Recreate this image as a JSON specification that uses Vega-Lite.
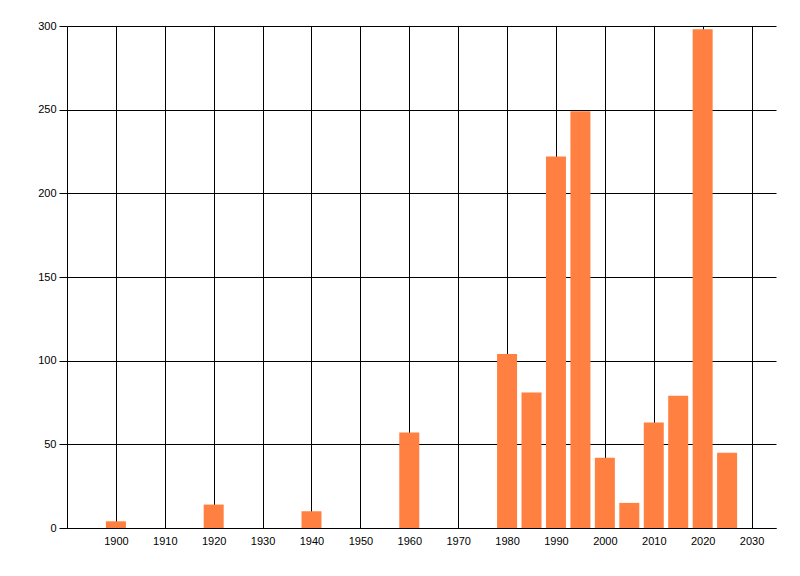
{
  "$schema": "https://vega.github.io/schema/vega-lite/v6.json",
  "autosize": "none",
  "padding": {"left": 67, "top": 26, "right": 24, "bottom": 48},
  "width": 709,
  "height": 502,
  "background": "white",
  "config": {
    "view": {"stroke": null},
    "axis": {
      "labelFont": "Liberation Sans",
      "labelFontSize": 11,
      "labelColor": "black",
      "domainColor": "black",
      "gridColor": "black",
      "gridOpacity": 1,
      "tickColor": "black",
      "title": null
    }
  },
  "data": {
    "values": [
      {"year": 1900, "value": 4},
      {"year": 1920, "value": 14},
      {"year": 1940, "value": 10},
      {"year": 1960, "value": 57},
      {"year": 1980, "value": 104},
      {"year": 1985, "value": 81},
      {"year": 1990, "value": 222},
      {"year": 1995, "value": 249},
      {"year": 2000, "value": 42},
      {"year": 2005, "value": 15},
      {"year": 2010, "value": 63},
      {"year": 2015, "value": 79},
      {"year": 2020, "value": 298},
      {"year": 2025, "value": 45}
    ]
  },
  "mark": {"type": "bar", "width": 20, "color": "#FF8040"},
  "encoding": {
    "x": {
      "field": "year",
      "type": "quantitative",
      "scale": {"domain": [1890, 2035], "nice": false, "zero": false, "padding": 0},
      "axis": {
        "values": [1900, 1910, 1920, 1930, 1940, 1950, 1960, 1970, 1980, 1990, 2000, 2010, 2020, 2030],
        "format": "d",
        "grid": true,
        "ticks": false,
        "tickSize": 0,
        "labelPadding": 7,
        "labelFlush": false
      }
    },
    "y": {
      "field": "value",
      "type": "quantitative",
      "scale": {"domain": [0, 300], "nice": false, "padding": 0},
      "axis": {
        "values": [0, 50, 100, 150, 200, 250, 300],
        "grid": true,
        "tickSize": 8,
        "labelPadding": 3,
        "labelFlush": false
      }
    }
  }
}
